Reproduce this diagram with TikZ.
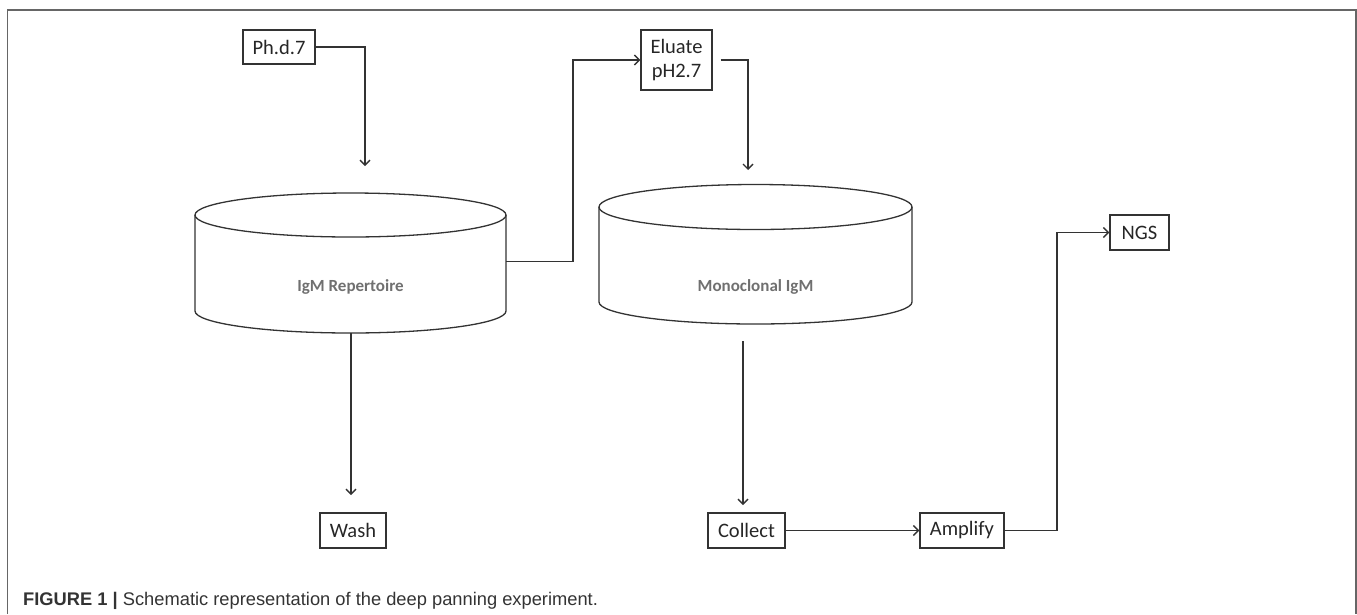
\documentclass[tikz,border=0pt]{standalone}
\usepackage{fontspec}
\setmainfont{Carlito}
\newfontfamily\capfont{Liberation Sans}
\usetikzlibrary{arrows.meta}
\definecolor{linec}{HTML}{333333}
\definecolor{framec}{HTML}{666666}
\definecolor{cyltextc}{HTML}{707070}
\definecolor{captc}{HTML}{333333}
\tikzset{
  box/.style={draw=linec, line width=1.4pt, inner sep=0pt, align=center,
    font=\fontsize{20.5}{24}\selectfont, text=black!85},
  cyl/.style={draw=linec, line width=1.3pt},
  cyltext/.style={font=\fontsize{17}{20}\selectfont\bfseries, text=cyltextc},
  conn/.style={draw=linec, line width=1.5pt},
  arr/.style={-{Straight Barb[length=5pt,width=10pt,line width=1.4pt]}},
  frame/.style={draw=framec, line width=1.5pt}
}
\begin{document}
\begin{tikzpicture}[x=1pt,y=-1pt]
\useasboundingbox (0,0) rectangle (1357,614);
% frame
\draw[frame] (7.5,614) -- (7.5,10) -- (1356,10) -- (1356,614);
% boxes
\node[box, minimum width=72pt, minimum height=34pt] (ph) at (279,47) {Ph.d.7};
\node[box, minimum width=71pt, minimum height=60pt] (elu) at (676.5,60) {Eluate\\pH2.7};
\node[box, minimum width=66pt, minimum height=35pt] (wash) at (353,530.5) {Wash};
\node[box, minimum width=77pt, minimum height=35pt] (coll) at (746.5,530.5) {Collect};
\node[box, minimum width=84pt, minimum height=35pt] (amp) at (962,530.5) {Amplify};
\node[box, minimum width=59pt, minimum height=35pt] (ngs) at (1139.5,232.5) {NGS};
% cylinders
\draw[cyl] (195,215) -- (195,311) arc[start angle=180, end angle=360, x radius=155.5pt, y radius=22pt] -- (506,215);
\draw[cyl] (350.5,215) ellipse [x radius=155.5pt, y radius=22pt];
\node[cyltext] (igm) at (350.5,287) {IgM Repertoire};
\draw[cyl] (599,207) -- (599,302) arc[start angle=180, end angle=360, x radius=156.5pt, y radius=22pt] -- (912,207);
\draw[cyl] (755.5,207) ellipse [x radius=156.5pt, y radius=22.5pt];
\node[cyltext] (mono) at (755.5,287) {Monoclonal IgM};
% coordinates
\coordinate (phEnd) at (365,166);
\coordinate (igmR) at (506,261.5);
\coordinate (k1) at (573,261.5);
\coordinate (eluEnd) at (748,170);
\coordinate (igmB) at (351,333);
\coordinate (washEnd) at (351,495);
\coordinate (monoB) at (743,341);
\coordinate (collEnd) at (743,505);
\coordinate (k3) at (1057,530.5);
% connectors
\draw[conn, arr] (ph.east) -| (phEnd);
\draw[conn, arr] (igmR) -- (k1) |- (elu.west);
\draw[conn, arr, shorten <=8pt] (elu.east) -| (eluEnd);
\draw[conn, arr] (igmB) -- (washEnd);
\draw[conn, arr] (monoB) -- (collEnd);
\draw[conn, arr] (coll.east) -- (amp.west);
\draw[conn, arr] (amp.east) -- (k3) |- (ngs.west);
% caption
\node[anchor=base west, inner sep=0pt, text=captc, font=\capfont\fontsize{18.3}{21}\selectfont] (cap) at (23,605) {\textbf{FIGURE 1 |} Schematic representation of the deep panning experiment.};
\end{tikzpicture}
\end{document}
